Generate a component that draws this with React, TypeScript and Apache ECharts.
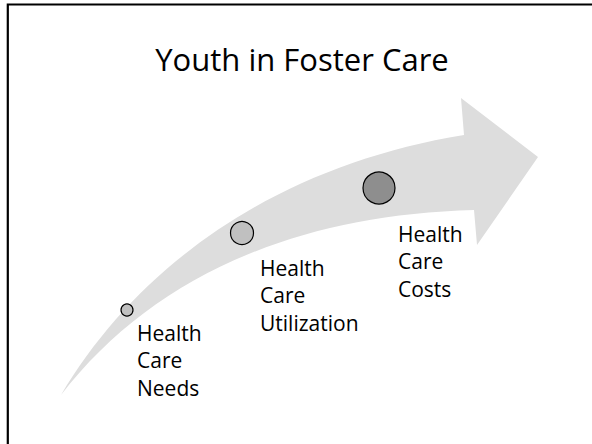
import React, { useEffect, useRef } from "react";
import * as echarts from "echarts";

// Stages of the diagram
const stageNames = ["Health\nCare\nNeeds", "Health\nCare\nUtilization", "Health\nCare\nCosts"];
const stageX = [127, 242, 379];
const stageY = [310, 233, 188];
const stageSize = [12, 23, 32];
const stageFill = ["#c0c0c0", "#c0c0c0", "#8e8e8e"];
const labelX = [137, 260, 398];
const labelY = [319, 254, 220];

// Arrow outline (diagram coordinates)
const arrowUpper = [[61, 395], [140, 262], [280, 165], [464, 135]];
const arrowHead = [[461, 98], [538, 157], [477, 245]];
const arrowLower = [[474, 210], [290, 215], [150, 280], [61, 395]];

const titleText = "Youth in Foster Care";
const FONT = "'Open Sans', 'Noto Sans', sans-serif";

export default function App() {
  const ref = useRef<HTMLDivElement>(null);
  useEffect(() => {
    if (!ref.current) return;
    const chart = echarts.init(ref.current, undefined, { renderer: "svg" });
    chart.setOption({
      animation: false,
      backgroundColor: "#ffffff",
      grid: { left: 0, right: 0, top: 0, bottom: 0 },
      xAxis: { type: "value", min: 0, max: 592, show: false },
      yAxis: { type: "value", min: 0, max: 444, inverse: true, show: false },
      series: [
        {
          type: "custom",
          z: 1,
          silent: true,
          data: [[0, 0]],
          renderItem: (params: any, api: any) => {
            const c = (p: number[]) => api.coord(p).map((v: number) => v.toFixed(1)).join(" ");
            const u = arrowUpper.map(c);
            const h = arrowHead.map(c);
            const l = arrowLower.map(c);
            const d =
              `M ${u[0]} C ${u[1]} ${u[2]} ${u[3]} ` +
              `L ${h[0]} L ${h[1]} L ${h[2]} ` +
              `L ${l[0]} C ${l[1]} ${l[2]} ${l[3]} Z`;
            return {
              type: "path",
              shape: { pathData: d },
              style: { fill: "#dddddd", stroke: "none" },
            };
          },
        },
        {
          type: "scatter",
          z: 5,
          silent: true,
          data: stageX.map((x, i) => ({
            value: [x, stageY[i]],
            symbolSize: stageSize[i],
            itemStyle: { color: stageFill[i], borderColor: "#000", borderWidth: 1.2, opacity: 1 },
          })),
        },
      ],
      graphic: [
        {
          type: "rect",
          z: 10,
          shape: { x: 7.8, y: 4.5, width: 700, height: 600 },
          style: { fill: "none", stroke: "#000", lineWidth: 2.2 },
        },
        {
          type: "text",
          z: 10,
          x: 302,
          y: 43,
          style: {
            text: titleText,
            font: `31px ${FONT}`,
            fill: "#000",
            textAlign: "center",
            textVerticalAlign: "top",
          },
        },
        ...stageNames.map((name, i) => ({
          type: "text",
          z: 10,
          x: labelX[i],
          y: labelY[i],
          style: {
            text: name,
            font: `21px ${FONT}`,
            lineHeight: 27.5,
            fill: "#000",
            textAlign: "left",
            textVerticalAlign: "top",
          },
        })),
      ],
    });
    return () => chart.dispose();
  }, []);
  return (
    <div
      ref={ref}
      style={{ position: "fixed", left: 0, top: 0, width: 592, height: 444 }}
    />
  );
}
